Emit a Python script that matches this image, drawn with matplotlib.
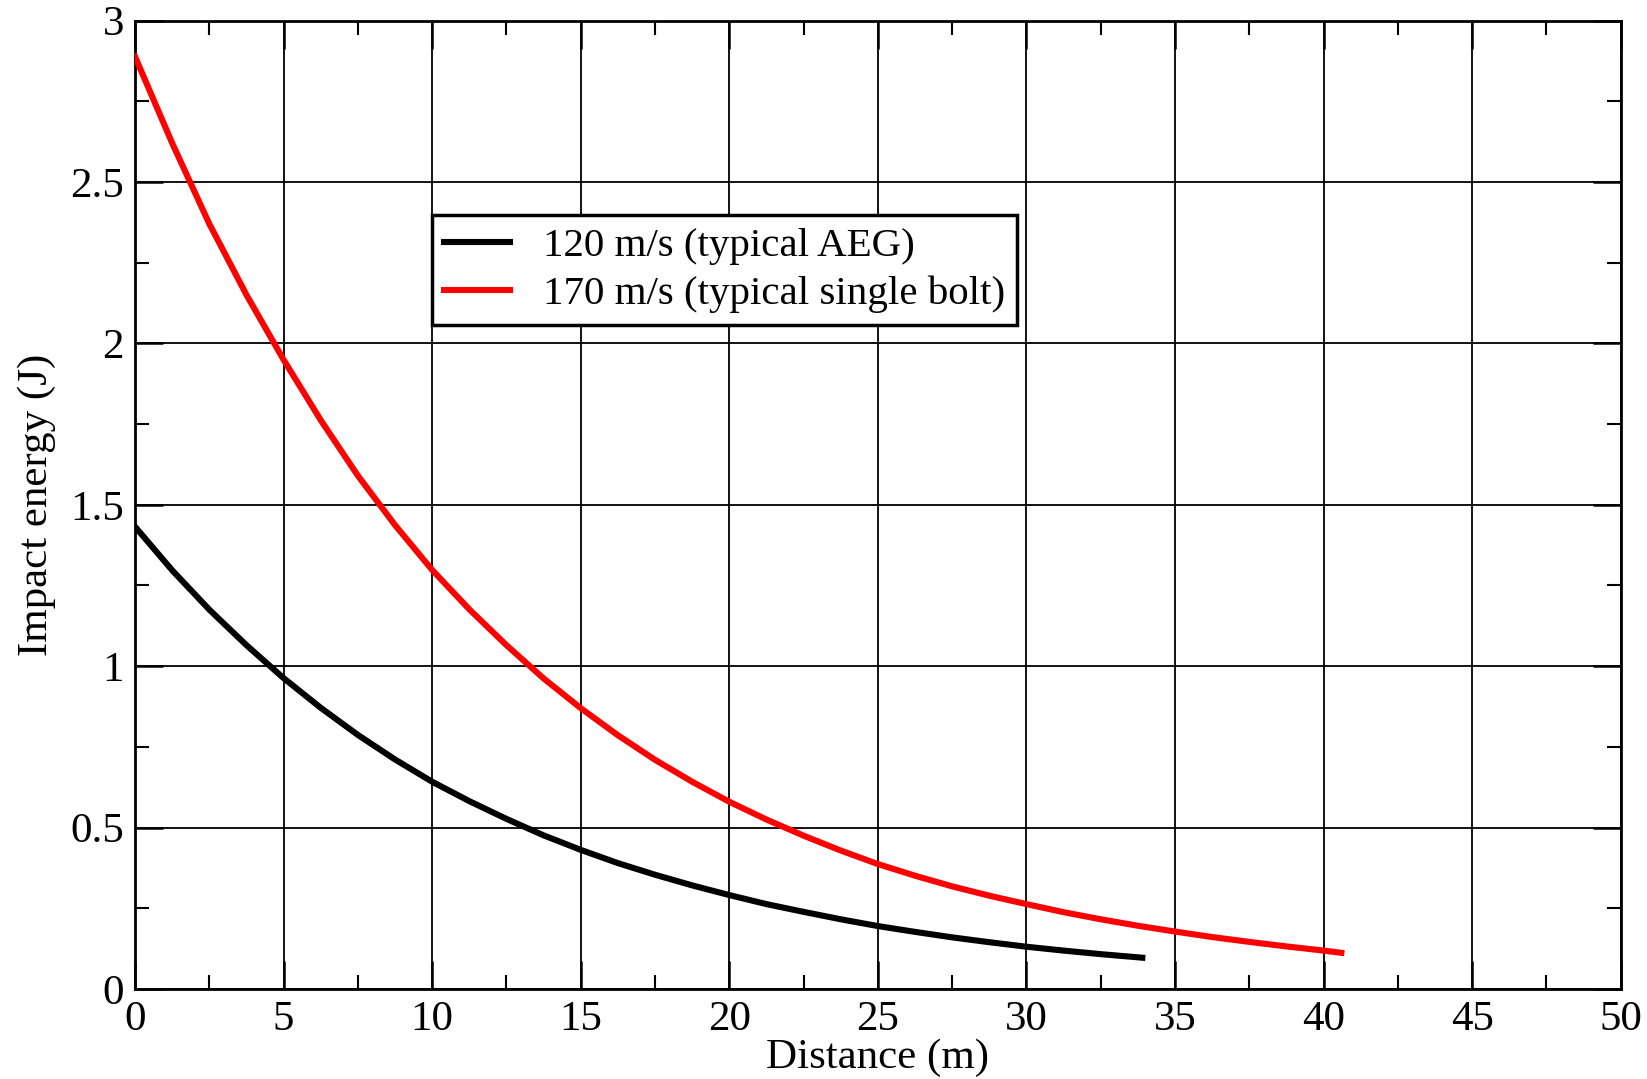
import matplotlib
matplotlib.use('Agg')
import matplotlib.pyplot as plt

# values (distance in m, impact energy in J)
dist_aeg = [0, 1.25, 2.5, 3.75, 5, 6.25, 7.5, 8.75, 10, 11.25, 12.5, 13.75, 15,
            16.25, 17.5, 18.75, 20, 21.25, 22.5, 23.75, 25, 26.25, 27.5, 28.75,
            30, 31.25, 32.5, 33.9]
energy_aeg = [1.432, 1.297, 1.175, 1.065, 0.963, 0.871, 0.787, 0.711, 0.642,
              0.582, 0.527, 0.476, 0.431, 0.390, 0.354, 0.321, 0.291, 0.263,
              0.239, 0.216, 0.195, 0.177, 0.160, 0.145, 0.131, 0.119, 0.108, 0.097]

dist_bolt = [0, 1.25, 2.5, 3.75, 5, 6.25, 7.5, 8.75, 10, 11.25, 12.5, 13.75, 15,
             16.25, 17.5, 18.75, 20, 21.25, 22.5, 23.75, 25, 26.25, 27.5, 28.75,
             30, 31.25, 32.5, 33.75, 35, 36.25, 37.5, 38.75, 40, 40.6]
energy_bolt = [2.888, 2.62, 2.37, 2.15, 1.949, 1.762, 1.59, 1.437, 1.298, 1.176,
               1.065, 0.962, 0.870, 0.786, 0.710, 0.642, 0.580, 0.525, 0.475,
               0.429, 0.387, 0.351, 0.318, 0.289, 0.263, 0.238, 0.216, 0.196,
               0.178, 0.161, 0.146, 0.132, 0.119, 0.112]

labels = ['120 m/s (typical AEG)', '170 m/s (typical single bolt)']
xticks = [0, 5, 10, 15, 20, 25, 30, 35, 40, 45, 50]
yticks = [0, 0.5, 1, 1.5, 2, 2.5, 3]
yticklabels = ['0', '0.5', '1', '1.5', '2', '2.5', '3']

plt.rcParams['font.family'] = ['Liberation Serif', 'DejaVu Serif']
fs = 31

fig = plt.figure(figsize=(16.47, 10.79), dpi=100)
ax = fig.add_axes([0.082, 0.0834, 0.902, 0.8976])

ax.plot(dist_aeg, energy_aeg, color='black', lw=4.4, label=labels[0], zorder=3,
        solid_joinstyle='round')
ax.plot(dist_bolt, energy_bolt, color='#ff0000', lw=4.4, label=labels[1], zorder=3,
        solid_joinstyle='round')

ax.set_xlim(0, 50)
ax.set_ylim(0, 3)
ax.set_xticks(xticks, [str(v) for v in xticks])
ax.set_xticks([v + 2.5 for v in xticks[:-1]], minor=True)
ax.set_yticks(yticks, yticklabels)
ax.set_yticks([v + 0.25 for v in yticks[:-1]], minor=True)

ax.grid(True, which='major', color='black', lw=1.3)
ax.tick_params(which='both', direction='in', top=True, right=True, labelsize=fs,
               color='black')
ax.tick_params(which='major', length=20, width=1.8, pad=8)
ax.tick_params(which='minor', length=10, width=1.5)
for s in ax.spines.values():
    s.set_linewidth(2)

ax.set_xlabel('Distance (m)', fontsize=fs, labelpad=0)
ax.set_ylabel('Impact energy (J)', fontsize=fs, labelpad=10)

leg = ax.legend(loc='upper left', bbox_to_anchor=(0.2, 0.799), borderaxespad=0,
                fontsize=29.5, fancybox=False, framealpha=1, edgecolor='black',
                handlelength=1.6, handletextpad=0.8, borderpad=0.3,
                labelspacing=0.25)
leg.get_frame().set_linewidth(2.5)

fig.savefig('out.png', dpi=100)
